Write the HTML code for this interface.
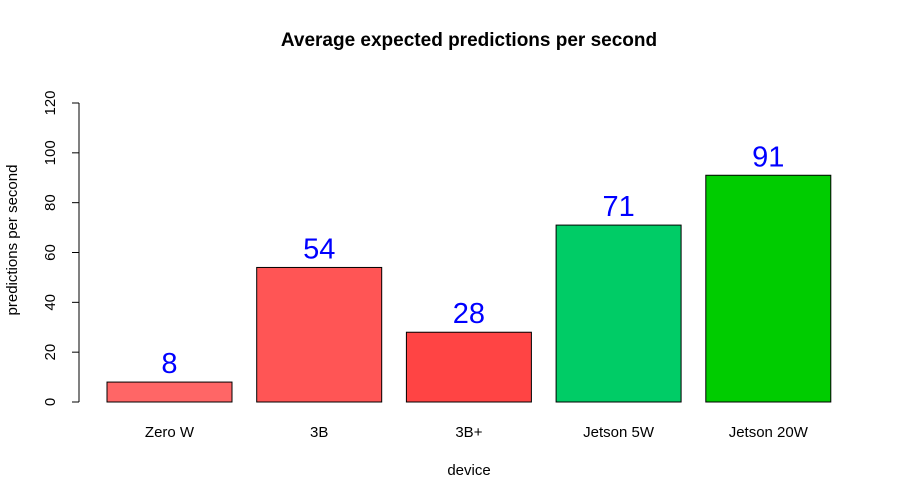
<!DOCTYPE html>
<html><head><meta charset="utf-8"><style>body{margin:0;background:#fff}svg{display:block;font-family:"Liberation Sans",sans-serif}</style></head>
<body>
<svg id="chart" width="900" height="500">
<text x="469" y="46" text-anchor="middle" font-size="19" font-weight="bold">Average expected predictions per second</text>
<text x="469" y="475" text-anchor="middle" font-size="15">device</text>
<text transform="translate(17,240) rotate(-90)" text-anchor="middle" font-size="15">predictions per second</text>
<g id="yaxis"></g>
<g id="bars"></g>
</svg>
<script>
const categories = ["Zero W","3B","3B+","Jetson 5W","Jetson 20W"];
const values = [8,54,28,71,91];
const colors = ["#ff6666","#ff5555","#ff4444","#00cc66","#00cc00"];
const yTicks = [0,20,40,60,80,100,120];
const NS="http://www.w3.org/2000/svg";
function y(v){return 402 - v*(299/120);}
function xb(i){return 107 + i*149.7;}
const bw=125;
function mk(tag,attrs,parent){const e=document.createElementNS(NS,tag);for(const k in attrs)e.setAttribute(k,attrs[k]);parent.appendChild(e);return e;}
const ya=document.getElementById('yaxis');
let l=mk('line',{x1:79,x2:79,y1:y(yTicks[0]),y2:y(yTicks[yTicks.length-1]),stroke:'#000'},ya);


yTicks.forEach(t=>{
 const tk=mk('line',{x1:72,x2:79,y1:y(t),y2:y(t),stroke:'#000'},ya);
 
 
 const tx=mk('text',{transform:`translate(55,${y(t)}) rotate(-90)`,'text-anchor':'middle','font-size':15},ya);
 tx.textContent=t;
 
 
});
const bg=document.getElementById('bars');
categories.forEach((c,i)=>{
 const r=mk('rect',{x:xb(i),y:y(values[i]),width:bw,height:y(0)-y(values[i]),fill:colors[i],stroke:'#000','stroke-width':1},bg);
 
 
 const v=mk('text',{x:xb(i)+bw/2,y:y(values[i])-9,'text-anchor':'middle','font-size':29,fill:'#0000ff'},bg);
 v.textContent=values[i];
 
 
 const cl=mk('text',{x:xb(i)+bw/2,y:437,'text-anchor':'middle','font-size':15},bg);
 cl.textContent=c;
 
 
});
</script>
</body></html>
